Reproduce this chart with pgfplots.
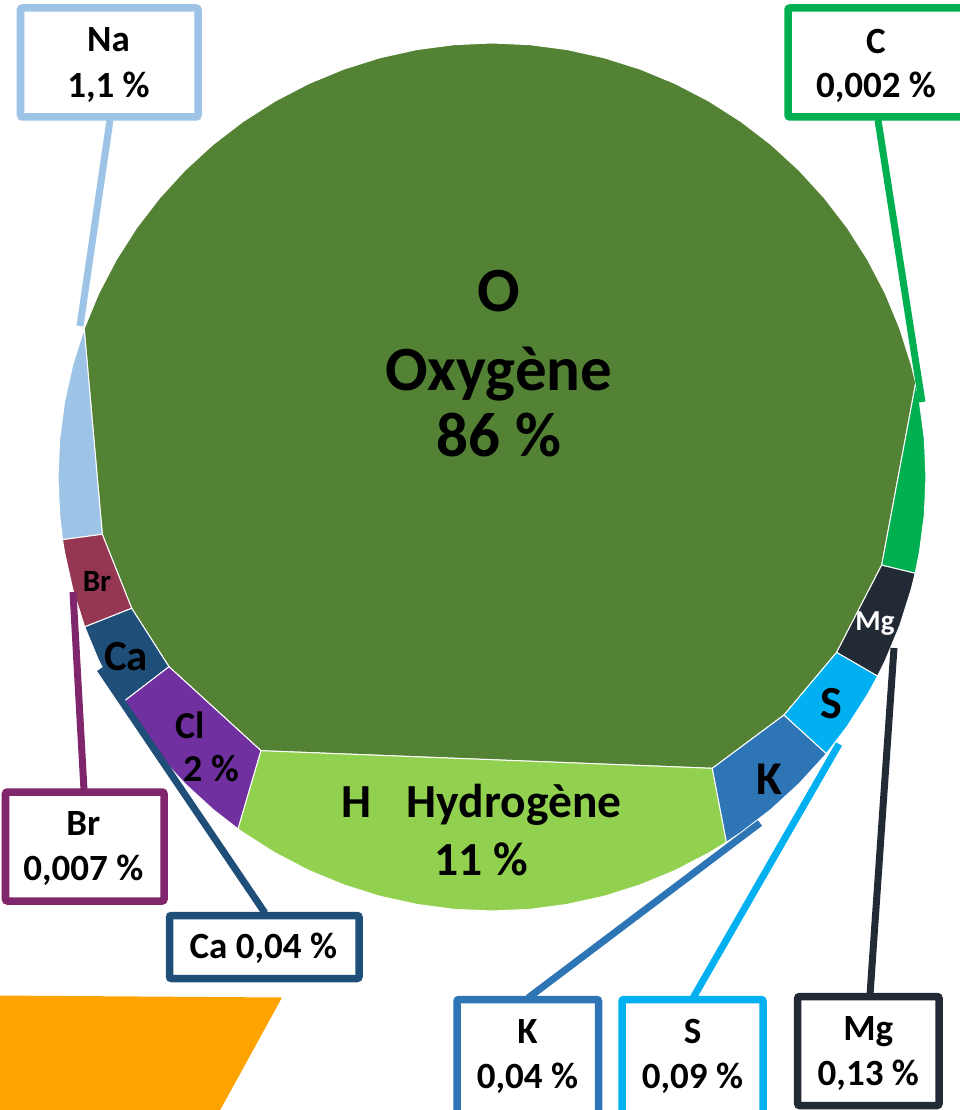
\documentclass[border=0pt]{standalone}
\usepackage{pgfplots}
\pgfplotsset{compat=1.18}
\usepackage{fontspec}
\setmainfont{Carlito}
\definecolor{cO}{RGB}{84,130,53}
\definecolor{cH}{RGB}{146,208,80}
\definecolor{cNa}{RGB}{157,195,230}
\definecolor{cBr}{RGB}{149,55,83}
\definecolor{cBrBox}{RGB}{128,38,108}
\definecolor{cCa}{RGB}{31,78,121}
\definecolor{cCl}{RGB}{112,48,160}
\definecolor{cK}{RGB}{46,117,182}
\definecolor{cS}{RGB}{0,176,240}
\definecolor{cMg}{RGB}{34,42,53}
\definecolor{cC}{RGB}{0,176,80}
\definecolor{cOr}{RGB}{255,163,0}
\newcommand{\fs}[1]{\fontsize{#1bp}{#1bp}\selectfont\bfseries}
\begin{document}
\begin{tikzpicture}
\begin{axis}[width=960bp, height=1110bp, scale only axis,
  xmin=0, xmax=960, ymin=0, ymax=1110, y dir=reverse,
  hide axis, clip=false]
% ---- slices (outer arc points on the circle, inner straight edges) ----
\addplot[fill=cO, draw=white, line width=1bp] coordinates {
(915.71,383.06)(911.21,364.67)(899.83,328.56)(885.34,293.58)(867.86,260)(847.51,228.07)
(824.46,198.03)(798.89,170.11)(770.97,144.54)(740.93,121.49)(709,101.14)(675.42,83.66)
(640.44,69.17)(604.33,57.79)(567.36,49.59)(529.83,44.65)(492,43)(454.17,44.65)
(416.64,49.59)(379.67,57.79)(343.56,69.17)(308.58,83.66)(275,101.14)(243.07,121.49)
(213.03,144.54)(185.11,170.11)(159.54,198.03)(136.49,228.07)(116.14,260)(98.66,293.58)
(84.17,328.56)(102.3,534.3)(131.7,608.3)(169,666.7)(261,750.7)(712.3,768.3)(784,715)
(836.7,652.3)(881.7,565)(915.71,383.06)};
\addplot[fill=cNa, draw=white, line width=1bp] coordinates {
(84.17,328.56)(72.79,364.67)(64.59,401.64)(59.65,439.17)(58,477)(59.65,514.83)(62.54,539.65)
(102.3,534.3)(84.17,328.56)};
\addplot[fill=cBr, draw=white, line width=1bp] coordinates {
(62.54,539.65)(64.59,552.36)(72.79,589.33)(84.70,626.86)(131.7,608.3)(102.3,534.3)(62.54,539.65)};
\addplot[fill=cCa, draw=white, line width=1bp] coordinates {
(84.70,626.86)(98.66,660.42)(116.14,694)(121.56,703.12)(169,666.7)(131.7,608.3)(84.70,626.86)};
\addplot[fill=cCl, draw=white, line width=1bp] coordinates {
(121.56,703.12)(136.49,725.93)(159.54,755.97)(185.11,783.89)(213.03,809.46)(238.05,828.93)
(261,750.7)(169,666.7)(121.56,703.12)};
\addplot[fill=cH, draw=white, line width=1bp] coordinates {
(238.05,828.93)(243.07,832.51)(275,852.86)(308.58,870.34)(343.56,884.83)(379.67,896.21)
(416.64,904.41)(454.17,909.35)(492,911)(529.83,909.35)(567.36,904.41)(604.33,896.21)
(640.44,884.83)(675.42,870.34)(709,852.86)(726.46,842.22)(712.3,768.3)(261,750.7)(238.05,828.93)};
\addplot[fill=cK, draw=white, line width=1bp] coordinates {
(726.46,842.22)(740.93,832.51)(770.97,809.46)(798.89,783.89)(824.46,755.97)(826.40,753.64)
(784,715)(712.3,768.3)(726.46,842.22)};
\addplot[fill=cS, draw=white, line width=1bp] coordinates {
(826.40,753.64)(847.51,725.93)(867.86,694)(877.66,676.05)(836.7,652.3)(784,715)(826.40,753.64)};
\addplot[fill=cMg, draw=white, line width=1bp] coordinates {
(877.66,676.05)(885.34,660.42)(899.83,625.44)(911.21,589.33)(915.22,573.15)(881.7,565)
(836.7,652.3)(877.66,676.05)};
\addplot[fill=cC, draw=white, line width=1bp] coordinates {
(915.22,573.15)(919.41,552.36)(924.35,514.83)(926,477)(924.35,439.17)(919.41,401.64)
(915.71,383.06)(881.7,565)(915.22,573.15)};
% ---- orange shape bottom left ----
\addplot[fill=cOr, draw=none] coordinates {(-2,995.5)(282,997.5)(218,1114)(-2,1114)(-2,995.5)};
% ---- leader lines ----
\addplot[cNa, line width=7bp] coordinates {(110,120)(80,326)};
\addplot[cC, line width=7bp] coordinates {(878,120)(922,402)};
\addplot[cBrBox, line width=7bp] coordinates {(84,790)(73,592)};
\addplot[cCa, line width=7bp] coordinates {(265,913)(100,669)};
\addplot[cK, line width=7bp] coordinates {(528,998)(760,823)};
\addplot[cS, line width=7bp] coordinates {(693,998)(839,744)};
\addplot[cMg, line width=7bp] coordinates {(870,995)(894,648)};
% ---- label boxes ----
\draw[cNa, line width=7.5bp, fill=white, rounded corners=2bp] (axis cs:20.5,8) rectangle (axis cs:198,117);
\draw[cC, line width=7.5bp, fill=white, rounded corners=2bp] (axis cs:788,8) rectangle (axis cs:972,117);
\draw[cBrBox, line width=7.5bp, fill=white, rounded corners=2bp] (axis cs:5.5,792) rectangle (axis cs:164,901);
\draw[cCa, line width=7.5bp, fill=white, rounded corners=2bp] (axis cs:169.5,915.5) rectangle (axis cs:359,978.5);
\draw[cK, line width=7.5bp, fill=white, rounded corners=2bp] (axis cs:457,999.5) rectangle (axis cs:598.5,1125);
\draw[cS, line width=7.5bp, fill=white, rounded corners=2bp] (axis cs:622,999.5) rectangle (axis cs:763,1125);
\draw[cMg, line width=7.5bp, fill=white, rounded corners=2bp] (axis cs:797.7,996.5) rectangle (axis cs:939,1105.5);
% ---- texts ----
\node[anchor=base, inner sep=0pt] at (axis cs:499,311.7) {\fs{63}O};
\node[anchor=base, inner sep=0pt] at (axis cs:499,390) {\fs{63}Oxygène};
\node[anchor=base, inner sep=0pt] at (axis cs:499,456.7) {\fs{63}86 \%};
\node[anchor=base, inner sep=0pt] at (axis cs:481.5,817.3) {\fs{47.5}H\hspace{0.75em}Hydrogène};
\node[anchor=base, inner sep=0pt] at (axis cs:481.5,875) {\fs{47.5}11 \%};
\node[anchor=base, inner sep=0pt] at (axis cs:97,591.7) {\fs{31}Br};
\node[anchor=base, inner sep=0pt] at (axis cs:126,670) {\fs{43}Ca};
\node[anchor=base, inner sep=0pt] at (axis cs:190.3,738.3) {\fs{38}Cl};
\node[anchor=base, inner sep=0pt] at (axis cs:211.7,781.7) {\fs{38}2 \%};
\node[anchor=base, inner sep=0pt, text=white] at (axis cs:875,630) {\fs{29}Mg};
\node[anchor=base, inner sep=0pt] at (axis cs:831.7,718.3) {\fs{46}S};
\node[anchor=base, inner sep=0pt] at (axis cs:769,794) {\fs{47}K};
% box texts
\node[anchor=base, inner sep=0pt] at (axis cs:108.5,51.7) {\fs{37}Na};
\node[anchor=base, inner sep=0pt] at (axis cs:108.5,97.3) {\fs{37}1,1 \%};
\node[anchor=base, inner sep=0pt] at (axis cs:876,53.3) {\fs{37}C};
\node[anchor=base, inner sep=0pt] at (axis cs:876,97.3) {\fs{37}0,002 \%};
\node[anchor=base, inner sep=0pt] at (axis cs:83.3,835.7) {\fs{37}Br};
\node[anchor=base, inner sep=0pt] at (axis cs:83.3,880) {\fs{37}0,007 \%};
\node[anchor=base, inner sep=0pt] at (axis cs:263.3,958.3) {\fs{37}Ca 0,04 \%};
\node[anchor=base, inner sep=0pt] at (axis cs:527.5,1043.3) {\fs{37}K};
\node[anchor=base, inner sep=0pt] at (axis cs:527.5,1088.3) {\fs{37}0,04 \%};
\node[anchor=base, inner sep=0pt] at (axis cs:692.5,1043.3) {\fs{37}S};
\node[anchor=base, inner sep=0pt] at (axis cs:692.5,1088.3) {\fs{37}0,09 \%};
\node[anchor=base, inner sep=0pt] at (axis cs:868.3,1040.7) {\fs{37}Mg};
\node[anchor=base, inner sep=0pt] at (axis cs:868.3,1085) {\fs{37}0,13 \%};
\end{axis}
\pgfresetboundingbox
\path (current axis.south west) rectangle (current axis.north east);
\end{tikzpicture}
\end{document}
